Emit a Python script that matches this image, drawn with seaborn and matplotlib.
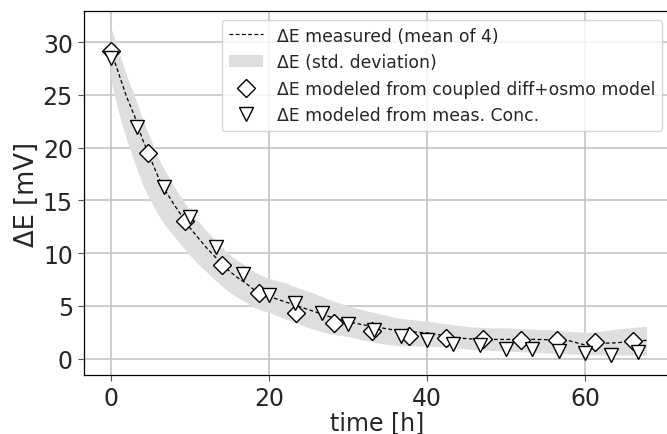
import numpy as np
import pandas as pd
import matplotlib
matplotlib.use("Agg")
import matplotlib.pyplot as plt
import seaborn as sns

# measured mean and std band
t_meas = [0, 1, 2, 3, 4, 5, 6, 7, 8, 9, 10, 11, 12, 13, 14, 15, 16, 17, 18, 19, 20,
          22, 24, 26, 28, 30, 32, 34, 36, 38, 40, 42, 44, 46, 48, 50, 52, 54, 56, 58,
          60, 62, 64, 66, 67.8]
e_mean = [29.2, 27.0, 24.8, 23.0, 20.8, 19.0, 17.2, 15.8, 14.6, 13.5, 12.4, 11.5, 10.6,
          9.8, 9.0, 8.3, 7.7, 7.2, 6.6, 6.2, 5.9, 5.4, 4.9, 4.4, 3.9, 3.5, 3.2, 2.95,
          2.7, 2.55, 2.45, 2.2, 1.95, 1.85, 1.82, 1.82, 1.85, 1.82, 1.78, 1.7, 1.3,
          1.45, 1.5, 1.65, 1.73]
band_hi = [31.4, 29.1, 26.8, 24.9, 22.7, 20.9, 19.0, 17.6, 16.3, 15.2, 14.0, 13.1, 12.2,
           11.4, 10.6, 9.9, 9.3, 8.9, 8.3, 7.9, 7.6, 7.2, 6.65, 6.1, 5.5, 5.0, 4.6, 4.25,
           3.9, 3.7, 3.55, 3.35, 3.15, 3.0, 2.92, 2.92, 2.85, 2.77, 2.73, 2.6, 2.5,
           2.6, 2.8, 2.95, 3.08]
band_lo = [26.4, 23.3, 20.7, 18.6, 16.5, 15.0, 13.6, 12.5, 11.6, 10.7, 9.8, 9.0, 8.3,
           7.6, 6.9, 6.3, 5.8, 5.4, 4.9, 4.6, 4.4, 3.8, 3.2, 2.7, 2.3, 2.1, 1.75, 1.45,
           1.25, 1.2, 1.2, 1.1, 1.0, 0.85, 0.77, 0.72, 0.65, 0.57, 0.53, 0.45, 0.4,
           0.35, 0.35, 0.35, 0.33]

# coupled diff+osmo model (diamonds)
t_coupled = [0, 4.7, 9.4, 14.1, 18.8, 23.4, 28.3, 33.0, 37.8, 42.4, 47.1, 51.9, 56.5, 61.3, 66.1]
e_coupled = [29.2, 19.5, 13.05, 8.85, 6.2, 4.35, 3.38, 2.6, 2.17, 1.98, 1.85, 1.74, 1.78, 1.6, 1.68]

# model from measured concentration (triangles)
t_conc = [0, 3.33, 6.67, 10, 13.33, 16.67, 20, 23.33, 26.67, 30, 33.33, 36.67, 40, 43.33,
          46.67, 50, 53.33, 56.67, 60, 63.33, 66.67]
e_conc = [28.5, 22.0, 16.3, 13.4, 10.6, 8.0, 6.0, 5.3, 4.34, 3.25, 2.7, 2.12, 1.78, 1.43,
          1.25, 0.9, 0.9, 0.73, 0.57, 0.38, 0.65]

xticks = [0, 20, 40, 60]
yticks = [0, 5, 10, 15, 20, 25, 30]

sns.set_theme(style="ticks")
plt.rcParams['font.family'] = ['DejaVu Sans']

fig = plt.figure(figsize=(6.67, 4.35), dpi=100)
ax = fig.add_axes([84 / 667, 59 / 435, 587 / 667, 364 / 435])

ax.fill_between(t_meas, band_lo, band_hi, color="#dedede", linewidth=0,
                label="ΔE (std. deviation)", zorder=1)
sns.lineplot(x=t_meas, y=e_mean, ax=ax, color="black", linestyle=(0, (3, 2)), linewidth=0.9,
             label="ΔE measured (mean of 4)", zorder=2)
ax.plot(t_coupled, e_coupled, linestyle="none", marker="D", markersize=9.5,
        markerfacecolor="white", markeredgecolor="black", markeredgewidth=1.0,
        label="ΔE modeled from coupled diff+osmo model", zorder=3)
ax.plot(t_conc, e_conc, linestyle="none", marker="v", markersize=10,
        markerfacecolor="white", markeredgecolor="black", markeredgewidth=1.0,
        label="ΔE modeled from meas. Conc.", zorder=3)

ax.set_xlim(-3.4, 70.9)
ax.set_ylim(-1.55, 32.95)
ax.set_xticks(xticks)
ax.set_yticks(yticks)
ax.grid(True, color="#c0c0c0", linewidth=1.1)
ax.set_axisbelow(True)
for s in ax.spines.values():
    s.set_color("black")
    s.set_linewidth(0.9)
ax.tick_params(labelsize=17, length=4, width=0.8, color="#555555", pad=4)
ax.set_xlabel("time [h]", fontsize=17, labelpad=0)
ax.set_ylabel("ΔE [mV]", fontsize=18.5, labelpad=2)

h, l = ax.get_legend_handles_labels()
order = [l.index("ΔE measured (mean of 4)"), l.index("ΔE (std. deviation)"),
         l.index("ΔE modeled from coupled diff+osmo model"), l.index("ΔE modeled from meas. Conc.")]
ax.legend([h[i] for i in order], [l[i] for i in order], loc="upper right", fontsize=12.4,
          frameon=True, fancybox=True, framealpha=0.8, edgecolor="#cccccc")

fig.savefig("out.png", dpi=100)
